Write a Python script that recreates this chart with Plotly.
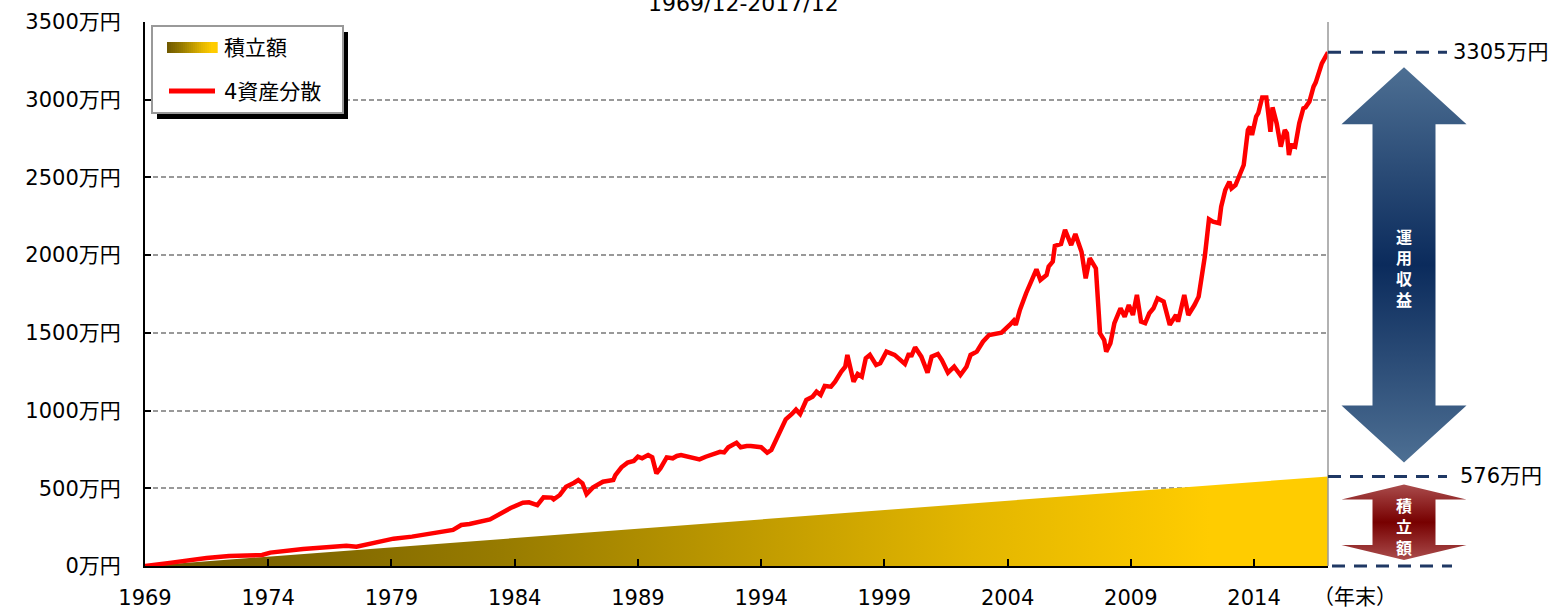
import plotly.graph_objects as go

# ---- data -----------------------------------------------------------------
# 4資産分散: month-end portfolio value (万円)
port_dates = [
    "1969-12", "1970-10", "1970-12", "1972-06", "1973-05", "1974-09", "1975-01", "1976-05", "1978-02", "1978-07",
    "1979-03", "1980-01", "1980-10", "1981-08", "1982-06", "1982-10", "1983-02", "1983-12", "1984-07", "1984-10",
    "1985-04", "1985-07", "1985-11", "1986-02", "1986-06", "1986-07", "1986-10", "1987-01", "1987-05", "1987-07",
    "1987-09", "1987-11", "1988-02", "1988-05", "1988-07", "1988-12", "1989-01", "1989-04", "1989-07", "1989-10",
    "1989-12", "1990-02", "1990-05", "1990-07", "1990-09", "1990-11", "1991-02", "1991-05", "1991-07", "1991-09",
    "1992-01", "1992-06", "1992-09", "1992-12", "1993-04", "1993-06", "1993-08", "1993-12", "1994-02", "1994-05",
    "1994-07", "1994-12", "1995-03", "1995-05", "1995-09", "1995-12", "1996-03", "1996-05", "1996-07", "1996-10",
    "1997-01", "1997-03", "1997-05", "1997-07", "1997-10", "1997-12", "1998-03", "1998-05", "1998-06", "1998-09",
    "1998-11", "1999-01", "1999-03", "1999-05", "1999-08", "1999-10", "2000-01", "2000-05", "2000-10", "2000-12",
    "2001-01", "2001-03", "2001-06", "2001-09", "2001-11", "2002-02", "2002-04", "2002-07", "2002-10", "2003-01",
    "2003-04", "2003-06", "2003-09", "2003-12", "2004-03", "2004-09", "2005-01", "2005-03", "2005-04", "2005-06",
    "2005-09", "2006-01", "2006-02", "2006-04", "2006-07", "2006-08", "2006-10", "2006-11", "2007-02", "2007-04",
    "2007-07", "2007-09", "2007-12", "2008-02", "2008-04", "2008-07", "2008-09", "2008-11", "2008-12", "2009-02",
    "2009-04", "2009-07", "2009-09", "2009-11", "2010-01", "2010-03", "2010-05", "2010-07", "2010-09", "2010-11",
    "2011-01", "2011-04", "2011-07", "2011-10", "2011-11", "2012-02", "2012-04", "2012-07", "2012-09", "2012-12",
    "2013-02", "2013-04", "2013-07", "2013-08", "2013-10", "2013-12", "2014-01", "2014-03", "2014-05", "2014-07",
    "2014-09", "2014-10", "2014-11", "2015-01", "2015-02", "2015-04", "2015-06", "2015-08", "2015-09", "2015-11",
    "2016-01", "2016-03", "2016-04", "2016-05", "2016-06", "2016-08", "2016-10", "2016-12", "2017-01", "2017-03",
    "2017-05", "2017-06", "2017-09", "2017-12",
]
port_values = [
    0, 12, 20, 51, 64, 71, 86, 109, 131, 124,
    150, 176, 189, 210, 232, 264, 270, 300, 350, 373,
    407, 410, 392, 442, 440, 429, 457, 510, 536, 553,
    532, 463, 504, 528, 542, 553, 585, 635, 665, 676,
    703, 693, 714, 699, 596, 629, 699, 693, 708, 714,
    703, 686, 703, 714, 735, 731, 764, 793, 764, 772,
    772, 764, 729, 746, 854, 944, 978, 1006, 978, 1068,
    1089, 1121, 1100, 1158, 1154, 1186, 1250, 1282, 1358, 1186,
    1235, 1218, 1336, 1358, 1293, 1304, 1379, 1358, 1300, 1368,
    1347, 1407, 1347, 1244, 1347, 1364, 1325, 1244, 1282, 1229,
    1282, 1358, 1379, 1443, 1486, 1501, 1551, 1578, 1551, 1647,
    1755, 1872, 1909, 1840, 1872, 1926, 1958, 2059, 2072, 2162,
    2065, 2136, 2022, 1851, 1980, 1915, 1497, 1454, 1379, 1433,
    1562, 1658, 1604, 1679, 1615, 1744, 1572, 1562, 1626, 1658,
    1722, 1701, 1551, 1615, 1572, 1744, 1615, 1679, 1733, 1990,
    2231, 2215, 2205, 2312, 2419, 2473, 2430, 2451, 2526, 2580,
    2805, 2826, 2773, 2891, 2913, 3015, 3015, 2794, 2951, 2848,
    2698, 2805, 2784, 2644, 2709, 2698, 2848, 2945, 2951, 2988,
    3084, 3110, 3234, 3305,
]

# 積立額: cumulative contributions at each year-end (万円)
contrib_years = [
    "1969", "1970", "1971", "1972", "1973", "1974", "1975", "1976", "1977", "1978",
    "1979", "1980", "1981", "1982", "1983", "1984", "1985", "1986", "1987", "1988",
    "1989", "1990", "1991", "1992", "1993", "1994", "1995", "1996", "1997", "1998",
    "1999", "2000", "2001", "2002", "2003", "2004", "2005", "2006", "2007", "2008",
    "2009", "2010", "2011", "2012", "2013", "2014", "2015", "2016", "2017",
]
contrib_values = [
    0, 12, 24, 36, 48, 60, 72, 84, 96, 108,
    120, 132, 144, 156, 168, 180, 192, 204, 216, 228,
    240, 252, 264, 276, 288, 300, 312, 324, 336, 348,
    360, 372, 384, 396, 408, 420, 432, 444, 456, 468,
    480, 492, 504, 516, 528, 540, 552, 564, 576,
]

x_tick_years = ["1969", "1974", "1979", "1984", "1989", "1994", "1999", "2004", "2009", "2014"]
y_tick_values = [0, 500, 1000, 1500, 2000, 2500, 3000, 3500]
y_tick_labels = [f"{v}万円" for v in y_tick_values]

# ---- geometry helpers (page pixels -> paper) -------------------------------
W, H = 1562, 609
L, R_EDGE, T, B = 145, 1328, 22, 566
XD = (R_EDGE - L) / (W - L)          # main x-axis domain end
Y_MAX = 3500
UNIT = Y_MAX / (B - T)               # 万円 per pixel


def px_x(px):
    return (px - L) / (W - L)


def px_y(py):
    return (B - py) / (B - T)


FONT = "DejaVu Sans, Noto Sans CJK JP"
GOLD_SCALE = [[0.0, "#6e5800"], [0.3, "#977b00"], [0.7, "#e3b600"], [0.9, "#ffcc00"], [1.0, "#ffcc00"]]

fig = go.Figure()

# accumulated contributions, gold gradient area
fig.add_trace(go.Scatter(
    x=[f"{y}-12-01" for y in contrib_years], y=contrib_values,
    mode="lines", line=dict(width=0), fill="tozeroy",
    fillgradient=dict(type="horizontal", colorscale=GOLD_SCALE),
    hoverinfo="skip", showlegend=False,
))

# portfolio value line
fig.add_trace(go.Scatter(
    x=port_dates, y=port_values, mode="lines",
    line=dict(color="#ff0000", width=4.5), showlegend=False,
))

# ---- double-headed arrows in the right-hand panel ---------------------------
CX, HEAD_HW, SHAFT_HW = 1404, 62.5, 31.5


def double_arrow(y_lo, y_hi, head):
    xs = [CX, CX + HEAD_HW, CX + SHAFT_HW, CX + SHAFT_HW, CX + HEAD_HW, CX,
          CX - HEAD_HW, CX - SHAFT_HW, CX - SHAFT_HW, CX - HEAD_HW, CX]
    ys = [y_hi, y_hi - head, y_hi - head, y_lo + head, y_lo + head, y_lo,
          y_lo + head, y_lo + head, y_hi - head, y_hi - head, y_hi]
    return xs, ys


final_value = port_values[-1]
total_contrib = contrib_values[-1]

bx, by = double_arrow(total_contrib + 14 * UNIT, final_value - 15 * UNIT, 57 * UNIT)
fig.add_trace(go.Scatter(
    x=bx, y=by, xaxis="x2", yaxis="y2", mode="lines", line=dict(width=0),
    fill="toself",
    fillgradient=dict(type="vertical",
                      colorscale=[[0, "#4d6f93"], [0.5, "#0b2b5c"], [1, "#4d6f93"]]),
    hoverinfo="skip", showlegend=False,
))
rx, ry = double_arrow(0 + 6 * UNIT, total_contrib - 8 * UNIT, 15 * UNIT)
fig.add_trace(go.Scatter(
    x=rx, y=ry, xaxis="x2", yaxis="y2", mode="lines", line=dict(width=0),
    fill="toself",
    fillgradient=dict(type="vertical",
                      colorscale=[[0, "#aa4c4c"], [0.5, "#770000"], [1, "#aa4c4c"]]),
    hoverinfo="skip", showlegend=False,
))

shapes = []
# right border of the plot area
shapes.append(dict(type="line", xref="x domain", yref="y domain", x0=1, x1=1, y0=0, y1=1,
                   line=dict(color="#999999", width=1.5)))
# dashed markers at the final value, total contributions and zero
NAVY = "#1f3864"
for val in (final_value, total_contrib):
    shapes.append(dict(type="line", xref="x2", yref="y2", x0=R_EDGE, x1=1447, y0=val, y1=val,
                       line=dict(color=NAVY, width=3, dash="13px,9px")))
shapes.append(dict(type="line", xref="x2", yref="paper", x0=1332, x1=1452, y0=0, y1=0,
                   line=dict(color=NAVY, width=3, dash="13px,9px")))

# legend box with shadow
shapes.append(dict(type="rect", xref="paper", yref="paper", x0=px_x(157), x1=px_x(348),
                   y0=px_y(119), y1=px_y(32), fillcolor="black", line=dict(width=0), layer="above"))
shapes.append(dict(type="rect", xref="paper", yref="paper", x0=px_x(152), x1=px_x(343),
                   y0=px_y(113), y1=px_y(26), fillcolor="white",
                   line=dict(color="#999999", width=2), layer="above"))


def interp_color(scale, t):
    for (p0, c0), (p1, c1) in zip(scale[:-1], scale[1:]):
        if p0 <= t <= p1:
            f = 0 if p1 == p0 else (t - p0) / (p1 - p0)
            a = [int(c0[i:i + 2], 16) for i in (1, 3, 5)]
            b = [int(c1[i:i + 2], 16) for i in (1, 3, 5)]
            return "rgb({},{},{})".format(*[round(a[k] + (b[k] - a[k]) * f) for k in range(3)])
    return scale[-1][1]


SW_X0, SW_X1, N_STRIPS = 167, 217, 25
for i in range(N_STRIPS):
    x0 = SW_X0 + (SW_X1 - SW_X0) * i / N_STRIPS
    x1 = SW_X0 + (SW_X1 - SW_X0) * (i + 1) / N_STRIPS
    shapes.append(dict(type="rect", xref="paper", yref="paper", x0=px_x(x0), x1=px_x(x1) + 0.0005,
                       y0=px_y(53), y1=px_y(42), fillcolor=interp_color(GOLD_SCALE, (i + 0.5) / N_STRIPS),
                       line=dict(width=0), layer="above"))
shapes.append(dict(type="line", xref="paper", yref="paper", x0=px_x(169), x1=px_x(215),
                   y0=px_y(91), y1=px_y(91), line=dict(color="#ff0000", width=5), layer="above"))

annotations = [
    dict(text="積立額", xref="paper", yref="paper", x=px_x(222), y=px_y(48),
         xanchor="left", yanchor="middle", showarrow=False, font=dict(size=21, color="black")),
    dict(text="4資産分散", xref="paper", yref="paper", x=px_x(222), y=px_y(92),
         xanchor="left", yanchor="middle", showarrow=False, font=dict(size=21, color="black")),
    dict(text="1969/12-2017/12", xref="paper", yref="paper", x=px_x(743), y=1,
         xanchor="center", yanchor="bottom", yshift=4, showarrow=False,
         font=dict(size=22, color="black")),
    dict(text="（年末）", xref="paper", yref="paper", x=px_x(1355), y=px_y(597),
         xanchor="center", yanchor="middle", showarrow=False, font=dict(size=21, color="black")),
    dict(text=f"{final_value}万円", xref="x2", yref="y2", x=1451, y=final_value,
         xanchor="left", yanchor="middle", showarrow=False, font=dict(size=21, color="black")),
    dict(text=f"{total_contrib}万円", xref="x2", yref="y2", x=1458, y=total_contrib,
         xanchor="left", yanchor="middle", showarrow=False, font=dict(size=21, color="black")),
]


# vertical white captions on the arrows, one glyph per annotation
def vertical_caption(chars, center_value, pitch_px):
    n = len(chars)
    for k, ch in enumerate(chars):
        offset = ((n - 1) / 2 - k) * pitch_px * UNIT
        annotations.append(dict(
            text=ch, xref="x2", yref="y2", x=CX, y=center_value + offset,
            xanchor="center", yanchor="middle", showarrow=False, borderpad=0,
            font=dict(size=16, color="white", family="Noto Sans CJK JP", weight="bold"),
        ))


vertical_caption("運用収益", (final_value + total_contrib) / 2 - 3 * UNIT, 21)
vertical_caption("積立額", total_contrib / 2 - 5 * UNIT, 21)

fig.update_layout(
    width=W, height=H,
    margin=dict(l=L, r=0, t=T, b=H - B),
    paper_bgcolor="white", plot_bgcolor="white",
    font=dict(family=FONT, color="black"),
    showlegend=False,
    xaxis=dict(
        type="date", domain=[0, XD], range=["1969-12-01", "2017-12-01"],
        tickvals=[f"{y}-12-01" for y in x_tick_years], ticktext=x_tick_years,
        ticks="inside", ticklen=7, tickwidth=1.5, tickcolor="black",
        showline=True, linecolor="black", linewidth=2,
        showgrid=False, zeroline=False,
        tickfont=dict(size=21, color="black"), ticklabelstandoff=12,
    ),
    yaxis=dict(
        range=[0, Y_MAX], tickvals=y_tick_values, ticktext=y_tick_labels,
        ticks="inside", ticklen=6, tickwidth=1.5, tickcolor="black",
        showline=True, linecolor="black", linewidth=2,
        showgrid=True, gridcolor="#999999", gridwidth=1.5, griddash="5px,3px",
        zeroline=False,
        tickfont=dict(size=21, color="black"), ticklabelstandoff=18,
    ),
    xaxis2=dict(domain=[XD, 1], range=[R_EDGE, W], anchor="y2", visible=False, fixedrange=True),
    yaxis2=dict(domain=[0, 1], range=[0, Y_MAX], anchor="x2", visible=False, fixedrange=True),
    shapes=shapes,
    annotations=annotations,
)

fig.write_html("out.html")
